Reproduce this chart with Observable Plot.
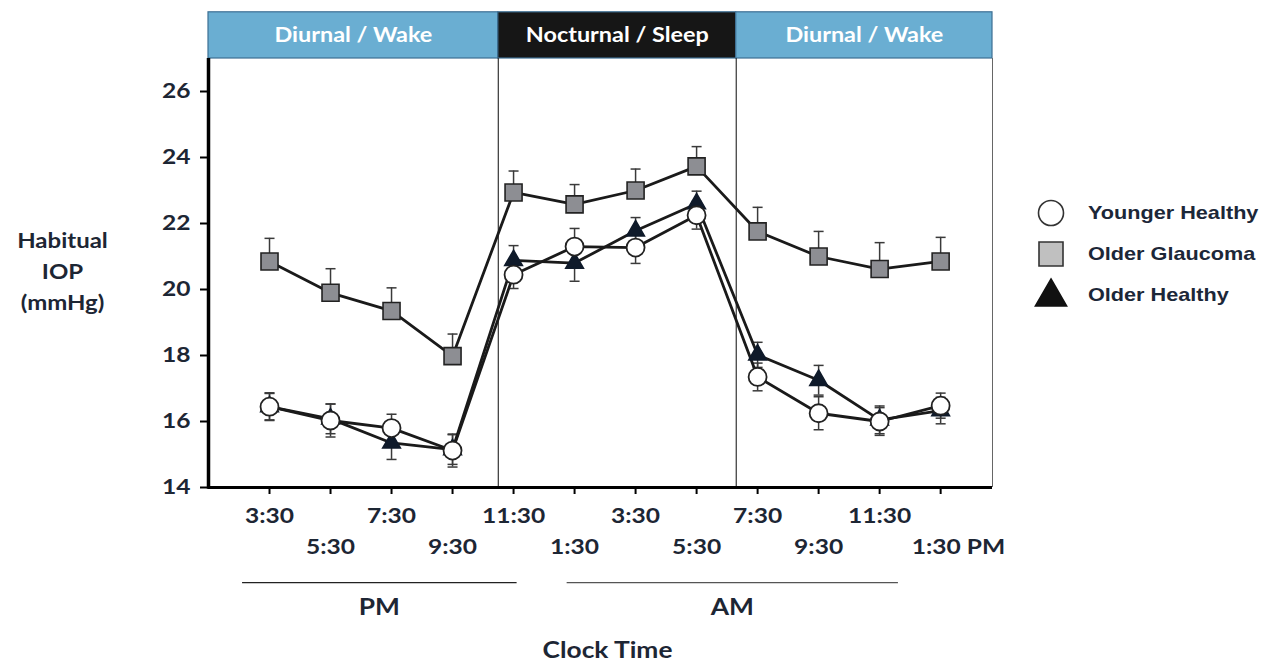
<!DOCTYPE html>
<html>
<head>
<meta charset="utf-8">
<script src="https://cdn.jsdelivr.net/npm/d3@7"></script>
<script src="https://cdn.jsdelivr.net/npm/@observablehq/plot@0.6"></script>
<style>
  html, body { margin: 0; padding: 0; background: #fff; }
  #chart svg text { font-weight: bold; }
</style>
</head>
<body>
<div id="chart"></div>
<script>
// ---- data ----
const times = ["3:30","5:30","7:30","9:30","11:30","1:30","3:30","5:30","7:30","9:30","11:30","1:30 PM"];
const youngerHealthy    = [16.45,16.03,15.80,15.12,20.45,21.30,21.27,22.25,17.35,16.25,16.00,16.48];
const youngerHealthyErr = [0.42,0.50,0.42,0.50,0.42,0.55,0.48,0.42,0.42,0.50,0.42,0.38];
const olderGlaucoma     = [20.85,19.90,19.35,17.98,22.94,22.58,23.00,23.73,21.76,21.00,20.62,20.85];
const olderGlaucomaErr  = [0.70,0.73,0.70,0.67,0.65,0.60,0.65,0.60,0.73,0.76,0.80,0.73];
const olderHealthy      = [16.45,16.08,15.35,15.15,20.88,20.80,21.78,22.60,18.02,17.25,16.05,16.33];
const olderHealthyErr   = [0.40,0.45,0.50,0.45,0.45,0.55,0.40,0.38,0.38,0.45,0.42,0.40];
const yTicks = [14,16,18,20,22,24,26];
const periods = [
  {label: "Diurnal / Wake",    start: -1,   end: 3.75},
  {label: "Nocturnal / Sleep", start: 3.75, end: 7.65},
  {label: "Diurnal / Wake",    start: 7.65, end: 11.85}
];
const meridiem = [
  {label: "PM", from: -0.45, to: 4.05},
  {label: "AM", from: 4.87,  to: 10.3}
];
const seriesNames = ["Younger Healthy","Older Glaucoma","Older Healthy"];

// ---- tables ----
const mk = (name, vals, errs) => vals.map((v, i) => ({i, time: times[i], series: name, value: v, err: errs[i]}));
const yh = mk("Younger Healthy", youngerHealthy, youngerHealthyErr);
const og = mk("Older Glaucoma", olderGlaucoma, olderGlaucomaErr);
const oh = mk("Older Healthy", olderHealthy, olderHealthyErr);
const timeRows = times.map((t, i) => ({i, label: t}));

const cap = {draw(ctx) { ctx.moveTo(-5, 0); ctx.lineTo(5, 0); }};
const lineC = "#1a1a1a", errC = "#3a3a3a", txtC = "#1d2634";

const errMarks = (rows, down) => {
  const m = [
    Plot.ruleX(rows, {x: "i", y1: "value", y2: d => d.value + d.err, stroke: errC, strokeWidth: 1.5}),
    Plot.dot(rows, {x: "i", y: d => d.value + d.err, symbol: cap, r: 5, stroke: errC, strokeWidth: 1.5, fill: "none"})
  ];
  if (down) m.push(
    Plot.ruleX(rows, {x: "i", y1: "value", y2: d => d.value - d.err, stroke: errC, strokeWidth: 1.5}),
    Plot.dot(rows, {x: "i", y: d => d.value - d.err, symbol: cap, r: 5, stroke: errC, strokeWidth: 1.5, fill: "none"})
  );
  return m;
};

const plot = Plot.plot({
  width: 1270, height: 662,
  marginLeft: 208, marginRight: 278, marginTop: 58, marginBottom: 175,
  x: {domain: [-1, 11.85], axis: null},
  y: {domain: [14, 27], axis: null},
  style: {fontFamily: "Lato, 'Open Sans', sans-serif", background: "white", overflow: "visible"},
  marks: [
    // header bands
    Plot.rect(periods, {x1: "start", x2: "end", y1: 27, y2: 28.4,
      fill: (d, i) => i === 1 ? "#161616" : "#6aaed2", stroke: "#3d6f93", strokeWidth: 1.2}),
    Plot.text(periods, {x: d => (d.start + d.end) / 2, y: 27.7, text: "label", fill: "white", fontSize: 20}),
    // dividers & frame
    Plot.ruleX([3.75, 7.65], {y1: 14, y2: 27, stroke: "#333", strokeWidth: 1.2}),
    Plot.ruleX([11.85], {y1: 14, y2: 27, stroke: "#666", strokeWidth: 1}),
    // axes
    Plot.axisY({ticks: yTicks, tickSize: 8, tickPadding: 10, fontSize: 21, fill: txtC, stroke: "black", strokeWidth: 2, label: null}),
    Plot.axisX({ticks: d3.range(12), tickSize: 7, tickFormat: () => "", stroke: "black", strokeWidth: 2, label: null}),
    Plot.ruleY([14], {stroke: "black", strokeWidth: 3}),
    Plot.ruleX([-1], {y1: 13.95, y2: 27, stroke: "black", strokeWidth: 3.5}),
    // x tick labels (two rows)
    Plot.text(timeRows.filter(d => d.i % 2 === 0), {x: "i", text: "label", frameAnchor: "bottom", dy: 35, fontSize: 21, fill: txtC}),
    Plot.text(timeRows.filter(d => d.i % 2 === 1 && d.i < 11), {x: "i", text: "label", frameAnchor: "bottom", dy: 66, fontSize: 21, fill: txtC}),
    Plot.text(timeRows.filter(d => d.i === 11), {x: "i", text: "label", frameAnchor: "bottom", dy: 66, dx: -29, textAnchor: "start", fontSize: 21, fill: txtC}),
    // PM / AM
    Plot.link(meridiem, {x1: "from", x2: "to", y1: 11.12, y2: 11.12, stroke: (d, i) => i ? "#555" : "#222", strokeWidth: 1.3}),
    Plot.text(meridiem, {x: d => (d.from + d.to) / 2, text: "label", frameAnchor: "bottom", dy: 127, fontSize: 22.5, fill: txtC}),
    Plot.text(["Clock Time"], {frameAnchor: "bottom", dy: 170, dx: 7, text: d => d, fontSize: 22.5, fill: txtC}),
    Plot.text(["Habitual\nIOP\n(mmHg)"], {frameAnchor: "left", textAnchor: "middle", dx: -146, dy: -4, text: d => d, fontSize: 20.5, lineHeight: 1.5, fill: txtC}),
    // error bars
    ...errMarks(og, false),
    ...errMarks(oh, true),
    ...errMarks(yh, true),
    // lines
    Plot.line(og, {x: "i", y: "value", stroke: lineC, strokeWidth: 2.8}),
    Plot.line(oh, {x: "i", y: "value", stroke: lineC, strokeWidth: 2.8}),
    Plot.line(yh, {x: "i", y: "value", stroke: lineC, strokeWidth: 2.8}),
    // markers
    Plot.dot(og, {x: "i", y: "value", symbol: "square", r: 9.6, fill: "#8d8e93", stroke: "#222", strokeWidth: 1.6}),
    Plot.dot(oh, {x: "i", y: "value", symbol: "triangle", r: 6.6, fill: "#0f1a2a", stroke: "#0f1a2a", strokeWidth: 1.5}),
    Plot.dot(yh, {x: "i", y: "value", symbol: "circle", r: 9, fill: "white", stroke: "#222", strokeWidth: 1.8})
  ]
});
document.getElementById("chart").appendChild(plot);

// legend (inside the same svg, right side)
const svg = d3.select(plot);
const lg = svg.append("g").attr("font-family", "'Liberation Sans', Arial, sans-serif")
  .attr("font-weight", "bold").attr("text-anchor", "start");
const legendSym = [
  {sym: d3.symbolCircle, size: Math.PI * 12.5 * 12.5, fill: "white", stroke: "#333"},
  {sym: d3.symbolSquare, size: 24 * 24, fill: "#c0c0c0", stroke: "#333"},
  {sym: d3.symbolTriangle, size: 420, fill: "#111", stroke: "#111"}
];
seriesNames.forEach((name, k) => {
  const cy = 213 + k * 41;
  lg.append("path").attr("transform", `translate(1051,${cy + (k === 2 ? 2 : 0)})`)
    .attr("d", d3.symbol(legendSym[k].sym, legendSym[k].size)())
    .attr("fill", legendSym[k].fill).attr("stroke", legendSym[k].stroke).attr("stroke-width", 1.6);
  lg.append("text").attr("x", 1088).attr("y", cy).attr("dy", "0.35em")
    .attr("font-size", 18.5).attr("fill", "#1c2738").text(name);
});

// the reference's lettering is horizontally widened; widen glyphs to match
const widen = 1.17;
const stretch = el => {
  const L = el.getComputedTextLength();
  if (L > 0) { el.setAttribute("textLength", (L * widen).toFixed(1)); el.setAttribute("lengthAdjust", "spacingAndGlyphs"); }
};
plot.querySelectorAll("text").forEach(t => {
  const ts = t.querySelectorAll("tspan");
  if (ts.length) ts.forEach(stretch); else stretch(t);
});
</script>
</body>
</html>
